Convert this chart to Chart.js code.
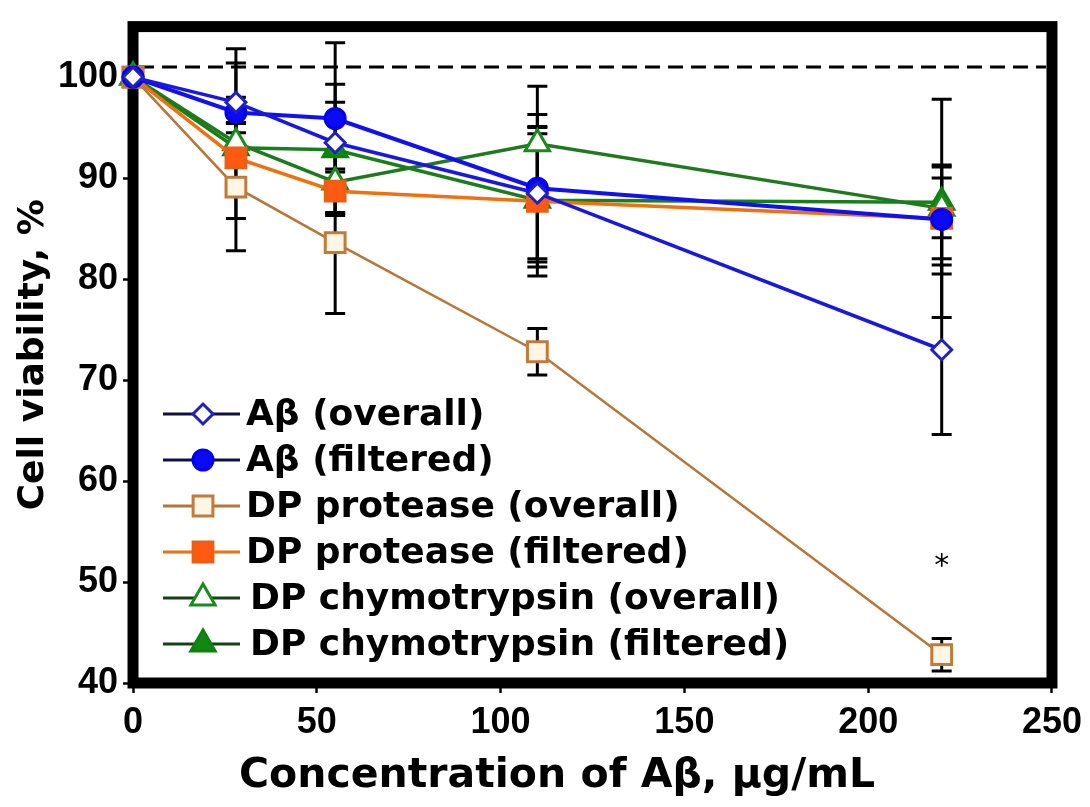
<!DOCTYPE html>
<html>
<head>
<meta charset="utf-8">
<script src="https://cdn.jsdelivr.net/npm/chart.js@4/dist/chart.umd.min.js"></script>
<style>
  html, body { margin: 0; padding: 0; background: #fff; }
  #wrap { width: 1090px; height: 807px; }
</style>
</head>
<body>
<div id="wrap"><canvas id="chart" width="1090" height="807"></canvas></div>
<script>
// concentrations of Aβ (µg/mL)
const concentrations = [0, 28, 55, 110, 220];

const labels = [
  "Aβ (overall)",
  "Aβ (filtered)",
  "DP protease (overall)",
  "DP protease (filtered)",
  "DP chymotrypsin (overall)",
  "DP chymotrypsin (filtered)"
];

// cell viability, %
const abOverall = [100, 97.5, 93.5, 88.5, 73];
const abFiltered = [100, 96.5, 95.9, 89, 85.9];
const dpProtOverall = [100, 89.1, 83.6, 72.8, 42.8];
const dpProtFiltered = [100, 92, 88.7, 87.7, 86];
const dpChymoOverall = [100, 93.5, 89.6, 93.4, 87];
const dpChymoFiltered = [100, 93, 92.8, 87.8, 87.6];

// error bars (±)
const abOverallErr = [0, 5.3, 4, 6.5, 8.4];
const abFilteredErr = [0, 4.9, 7.5, 7.3, 5.4];
const dpProtOverallErr = [0, 6.3, 7, 2.3, 1.6];
const dpProtFilteredErr = [0, 6, 2.2, 7.4, 4];
const dpChymoOverallErr = [0, 2, 3, 5.7, 10.8];
const dpChymoFilteredErr = [0, 1.5, 6.5, 6.6, 3.5];

const yTicks = [40, 50, 60, 70, 80, 90, 100];
const controlLevel = 101;
const starMark = { x: 220, y: 51.5, text: "*" };
const xTitle = "Concentration of Aβ, μg/mL";

const series = [abOverall, abFiltered, dpProtOverall, dpProtFiltered, dpChymoOverall, dpChymoFiltered];
const errors = [abOverallErr, abFilteredErr, dpProtOverallErr, dpProtFilteredErr, dpChymoOverallErr, dpChymoFilteredErr];

const styles = [
  { line: "#1818e0", border: "#2020c0", fill: "#ffffff", shape: "rectRot", r: 10, w: 3.5 },
  { line: "#1010f0", border: "#0000ee", fill: "#0a0af5", shape: "circle", r: 10, w: 4 },
  { line: "#b8753a", border: "#c07a3a", fill: "#fff6e6", shape: "rect", r: 14, w: 2.5 },
  { line: "#f07010", border: "#e86018", fill: "#ff5a10", shape: "rect", r: 14, w: 3.5 },
  { line: "#1f7a1f", border: "#1a8a1a", fill: "#ffffff", shape: "triangle", r: 14, w: 3.5 },
  { line: "#1a7f1a", border: "#108010", fill: "#118811", shape: "triangle", r: 14, w: 3.5 }
];

const datasets = series.map((vals, i) => ({
  label: labels[i],
  data: vals.map((v, j) => ({ x: concentrations[j], y: v })),
  borderColor: styles[i].line,
  borderWidth: styles[i].w,
  pointStyle: styles[i].shape,
  pointRadius: styles[i].r,
  pointBorderWidth: 3,
  pointBorderColor: styles[i].border,
  pointBackgroundColor: styles[i].fill,
  tension: 0,
  clip: false
}));

const extras = {
  id: "extras",
  beforeDatasetsDraw(chart) {
    const { ctx, chartArea: a, scales: { x, y } } = chart;
    ctx.save();
    // frame
    ctx.strokeStyle = "#000";
    ctx.lineWidth = 11;
    ctx.strokeRect(a.left, a.top, a.right - a.left, a.bottom - a.top);
    // dashed control line
    ctx.lineWidth = 3;
    ctx.setLineDash([15, 8]);
    const yc = y.getPixelForValue(controlLevel);
    ctx.beginPath();
    ctx.moveTo(a.left + 6, yc);
    ctx.lineTo(a.right - 6, yc);
    ctx.stroke();
    ctx.setLineDash([]);
    // error bars
    ctx.lineWidth = 3;
    series.forEach((vals, i) => {
      vals.forEach((v, j) => {
        const e = errors[i][j];
        if (!e) return;
        const px = x.getPixelForValue(concentrations[j]);
        const top = y.getPixelForValue(v + e);
        const bot = y.getPixelForValue(v - e);
        ctx.beginPath();
        ctx.moveTo(px, top); ctx.lineTo(px, bot);
        ctx.moveTo(px - 10, top); ctx.lineTo(px + 10, top);
        ctx.moveTo(px - 10, bot); ctx.lineTo(px + 10, bot);
        ctx.stroke();
      });
    });
    ctx.restore();
  },
  afterDraw(chart) {
    const { ctx, scales: { x, y } } = chart;
    ctx.save();
    ctx.fillStyle = "#000";
    ctx.textAlign = "center";
    ctx.textBaseline = "middle";
    // x axis title (sits a bit left of the plot centre in the original)
    ctx.font = "bold 41px 'DejaVu Sans'";
    ctx.fillText(xTitle, 557, 776);
    // asterisk
    ctx.font = "30px 'DejaVu Sans'";
    ctx.fillText(starMark.text, x.getPixelForValue(starMark.x), y.getPixelForValue(starMark.y));
    // legend inside plot
    ctx.textAlign = "left";
    ctx.font = "bold 36px 'DejaVu Sans'";
    labels.forEach((lab, i) => {
      const ry = 414 + i * 46;
      const st = styles[i];
      ctx.strokeStyle = i < 2 ? "#101040" : (i > 3 ? "#184018" : st.line);
      ctx.lineWidth = 3;
      ctx.beginPath();
      ctx.moveTo(163, ry); ctx.lineTo(240, ry);
      ctx.stroke();
      ctx.fillStyle = st.fill;
      ctx.strokeStyle = st.border;
      ctx.lineWidth = 3;
      Chart.helpers.drawPoint(ctx, { pointStyle: st.shape, radius: st.r, rotation: 0, borderWidth: 3 }, 203, ry);
      ctx.fillStyle = "#000";
      ctx.fillText(lab, i > 3 ? 250 : 246, ry + 2);
    });
    ctx.restore();
  }
};

new Chart(document.getElementById("chart"), {
  type: "line",
  data: { datasets },
  options: {
    responsive: false,
    animation: false,
    layout: { padding: { top: 20, right: 38, left: 0, bottom: 0 } },
    plugins: { legend: { display: false }, tooltip: { enabled: false } },
    scales: {
      x: {
        type: "linear",
        min: 0,
        max: 250,
        afterFit: s => { s.height = 124; },
        ticks: { stepSize: 50, color: "#000", padding: 8, font: { family: "'Liberation Sans'", size: 36, weight: "bold" } },
        grid: { drawOnChartArea: false, tickLength: 10, tickWidth: 2.5, tickColor: "#000" },
        border: { display: false }
      },
      y: {
        min: 40,
        max: 105,
        afterFit: s => { s.width = 133; },
        afterBuildTicks: s => { s.ticks = yTicks.map(v => ({ value: v })); },
        ticks: { color: "#000", padding: 5, font: { family: "'Liberation Sans'", size: 36, weight: "bold" } },
        grid: { drawOnChartArea: false, tickLength: 10, tickWidth: 2.5, tickColor: "#000" },
        border: { display: false },
        title: {
          display: true,
          text: "Cell viability, %",
          color: "#000",
          padding: { top: 12, bottom: 0 },
          font: { family: "'DejaVu Sans'", size: 36, weight: "bold" }
        }
      }
    }
  },
  plugins: [extras]
});
</script>
</body>
</html>
